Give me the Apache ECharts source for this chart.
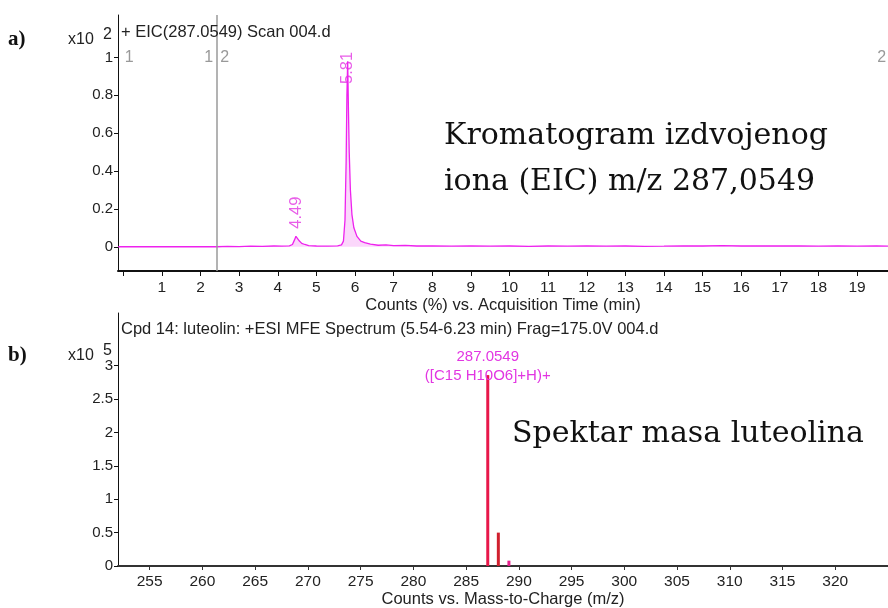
<!DOCTYPE html>
<html>
<head>
<meta charset="utf-8">
<script src="https://cdn.jsdelivr.net/npm/echarts@6/dist/echarts.min.js"></script>
<style>
  html, body { margin: 0; padding: 0; background: #fff; }
  #chart { width: 888px; height: 608px; }
</style>
</head>
<body>
<div id="chart"></div>
<script>
// a) EIC chromatogram, counts x10^2 vs time (min)
const eicTime = [-0.13, 0, 2.43, 2.7, 3.0, 3.3, 3.6, 3.9, 4.1, 4.3, 4.38, 4.43, 4.47, 4.51, 4.56, 4.62, 4.7, 4.8,
  5.0, 5.3, 5.55, 5.65, 5.7, 5.74, 5.77, 5.79, 5.81, 5.83, 5.85, 5.88, 5.92, 5.97, 6.05, 6.15, 6.25, 6.4,
  6.6, 6.8, 7.0, 7.3, 7.6, 8.0, 8.5, 9.0, 9.5, 10.0, 10.5, 11.0, 11.5, 12.0, 12.5, 13.0, 13.5, 14.0, 14.5,
  15.0, 15.5, 16.0, 16.5, 17.0, 17.5, 18.0, 18.5, 19.0, 19.5, 19.8];
const eicCounts = [0, 0, 0, 0.002, 0.001, 0.003, 0.002, 0.004, 0.003, 0.005, 0.012, 0.035, 0.055, 0.05, 0.03, 0.018, 0.012, 0.006,
  0.004, 0.003, 0.005, 0.01, 0.03, 0.14, 0.45, 0.8, 0.98, 0.72, 0.5, 0.3, 0.17, 0.1, 0.055, 0.03, 0.022, 0.014,
  0.008, 0.01, 0.006, 0.007, 0.004, 0.005, 0.003, 0.004, 0.003, 0.004, 0.002, 0.004, 0.003, 0.005, 0.003, 0.004, 0.002, 0.003, 0.005,
  0.004, 0.006, 0.004, 0.005, 0.004, 0.005, 0.003, 0.004, 0.003, 0.004, 0.003];
const peakTimes = [4.49, 5.81];
const peakLabelAt = [0.095, 0.86];
const segmentLine = 2.43;
const timeTicks = [1, 2, 3, 4, 5, 6, 7, 8, 9, 10, 11, 12, 13, 14, 15, 16, 17, 18, 19];
const eicYTicks = [0, 0.2, 0.4, 0.6, 0.8, 1];

// b) MS spectrum, counts x10^5 vs m/z
const msMz = [287.0549, 288.058, 289.061];
const msCounts = [2.86, 0.5, 0.08];
const mzTicks = [255, 260, 265, 270, 275, 280, 285, 290, 295, 300, 305, 310, 315, 320];
const msYTicks = [0, 0.5, 1, 1.5, 2, 2.5, 3];

const barColors = ['#e8174a', '#d0202e', '#e6208c'];
const sans = 'Liberation Sans, Arial, sans-serif';
const serif = 'DejaVu Serif, Liberation Serif, serif';

const chart = echarts.init(document.getElementById('chart'));

const yAxisBase = {
  type: 'value',
  splitLine: { show: false },
  axisLine: { show: true, onZero: false, lineStyle: { color: '#111', width: 1 } },
  axisTick: { show: true, length: 4, lineStyle: { color: '#111' } },
  axisLabel: { color: '#222', fontSize: 15, fontFamily: sans, margin: 5 }
};

const option = {
  animation: false,
  title: [
    { text: '+ EIC(287.0549) Scan 004.d', left: 121, top: 24, padding: 0,
      textStyle: { fontSize: 16.5, fontWeight: 'normal', color: '#222', fontFamily: sans } },
    { text: 'Cpd 14: luteolin: +ESI MFE Spectrum (5.54-6.23 min) Frag=175.0V 004.d', left: 121, top: 321, padding: 0,
      textStyle: { fontSize: 16.5, fontWeight: 'normal', color: '#222', fontFamily: sans } }
  ],
  grid: [
    { left: 118, right: 0, top: 15, bottom: 337, outerBoundsMode: 'none', containLabel: false },
    { left: 118, right: 0, top: 313, bottom: 42, outerBoundsMode: 'none', containLabel: false }
  ],
  xAxis: [
    {
      gridIndex: 0, type: 'value', min: -0.137, max: 19.8,
      name: 'Counts (%) vs. Acquisition Time (min)', nameLocation: 'middle', nameGap: 22,
      nameTextStyle: { fontSize: 16.5, color: '#222', fontFamily: sans },
      splitLine: { show: false },
      axisLine: { onZero: false, lineStyle: { color: '#111', width: 2 } },
      axisTick: { length: 5, customValues: [0].concat(timeTicks), lineStyle: { color: '#111' } },
      axisLabel: { customValues: timeTicks, fontSize: 15.5, color: '#222', fontFamily: sans, margin: 9 }
    },
    {
      gridIndex: 1, type: 'value', min: 252, max: 325,
      name: 'Counts vs. Mass-to-Charge (m/z)', nameLocation: 'middle', nameGap: 24,
      nameTextStyle: { fontSize: 16.5, color: '#222', fontFamily: sans },
      splitLine: { show: false },
      axisLine: { onZero: false, lineStyle: { color: '#333', width: 2 } },
      axisTick: { length: 4, customValues: mzTicks, lineStyle: { color: '#333' } },
      axisLabel: { customValues: mzTicks, fontSize: 15.5, color: '#222', fontFamily: sans, margin: 8 }
    }
  ],
  yAxis: [
    Object.assign({}, yAxisBase, {
      gridIndex: 0, min: -0.128, max: 1.224,
      axisTick: Object.assign({}, yAxisBase.axisTick, { customValues: eicYTicks }),
      axisLabel: Object.assign({}, yAxisBase.axisLabel, { customValues: eicYTicks })
    }),
    Object.assign({}, yAxisBase, {
      gridIndex: 1, min: 0, max: 3.79,
      axisTick: Object.assign({}, yAxisBase.axisTick, { customValues: msYTicks }),
      axisLabel: Object.assign({}, yAxisBase.axisLabel, { customValues: msYTicks })
    })
  ],
  series: [
    {
      type: 'line', xAxisIndex: 0, yAxisIndex: 0,
      data: eicTime.map((t, i) => [t, eicCounts[i]]),
      symbol: 'none', lineStyle: { color: '#ee22ee', width: 1.3 },
      areaStyle: { color: 'rgba(240,90,240,0.35)', origin: 0 },
      markLine: {
        silent: true, symbol: 'none', animation: false,
        lineStyle: { color: '#9a9a9a', width: 1.5, type: 'solid' },
        label: { show: false },
        data: [[{ coord: [segmentLine, -0.128] }, { coord: [segmentLine, 1.224] }]]
      },
      markPoint: {
        silent: true, symbol: 'circle', symbolSize: 0,
        label: { show: true, color: '#999', fontSize: 16, fontFamily: sans },
        data: [
          { coord: [0.04, 1.0], label: { formatter: '1', position: 'right', distance: 0 } },
          { coord: [segmentLine, 1.0], label: { formatter: '1', position: 'left', distance: 4 } },
          { coord: [segmentLine, 1.0], label: { formatter: '2', position: 'right', distance: 3 } },
          { coord: [19.78, 1.0], label: { formatter: '2', position: 'left', distance: 1 } }
        ]
      }
    },
    {
      type: 'scatter', xAxisIndex: 0, yAxisIndex: 0, symbolSize: 0, silent: true,
      data: peakTimes.map((t, i) => [t, peakLabelAt[i]]),
      label: {
        show: true, position: 'inside', rotate: 90, align: 'left', verticalAlign: 'middle',
        color: '#e236e2', fontSize: 16.5, fontFamily: sans,
        formatter: p => p.value[0].toFixed(2)
      }
    },
    {
      type: 'bar', xAxisIndex: 1, yAxisIndex: 1, barWidth: 3,
      data: msMz.map((m, i) => ({ value: [m, msCounts[i]], itemStyle: { color: barColors[i] } })),
      label: {
        show: true, position: 'top', distance: -10, color: '#e236e2', fontSize: 15, fontFamily: sans, lineHeight: 19,
        formatter: p => p.dataIndex === 0 ? '287.0549\n([C15 H10O6]+H)+' : ''
      }
    }
  ],
  graphic: [
    { type: 'text', left: 8, top: 29, style: { text: 'a)', font: 'bold 21px Liberation Serif, serif', fill: '#111' } },
    { type: 'text', left: 8, top: 345, style: { text: 'b)', font: 'bold 21px Liberation Serif, serif', fill: '#111' } },
    { type: 'text', left: 68, top: 32, style: { text: 'x10', font: '16px ' + sans, fill: '#222' } },
    { type: 'text', left: 103, top: 27, style: { text: '2', font: '16px ' + sans, fill: '#222' } },
    { type: 'text', left: 68, top: 348, style: { text: 'x10', font: '16px ' + sans, fill: '#222' } },
    { type: 'text', left: 103, top: 343, style: { text: '5', font: '16px ' + sans, fill: '#222' } },
    { type: 'text', left: 444, top: 113, style: { text: 'Kromatogram izdvojenog\niona (EIC) m/z 287,0549', font: '30px ' + serif, lineHeight: 46, fill: '#111' } },
    { type: 'text', left: 512, top: 419, style: { text: 'Spektar masa luteolina', font: '30px ' + serif, fill: '#111' } }
  ]
};

chart.setOption(option);
</script>
</body>
</html>
